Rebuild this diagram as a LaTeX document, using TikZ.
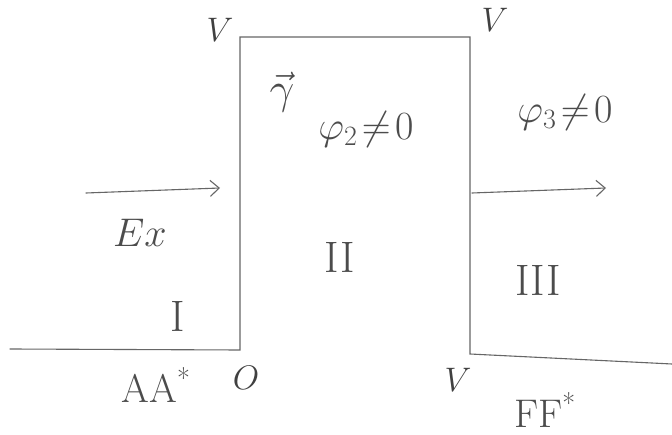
\RequirePackage{fix-cm}
\documentclass[tikz,border=0pt]{standalone}
\usetikzlibrary{arrows.meta}
\begin{document}
\begin{tikzpicture}[x=1pt,y=-1pt,
  pencil/.style={draw=black!60, line width=1.1pt, line cap=round},
  lbl/.style={text=black!75, inner sep=0pt, font=\fontsize{34}{34}\selectfont},
  big/.style={text=black!70, inner sep=0pt, font=\fontsize{40}{40}\selectfont},
  num/.style={text=black!70, inner sep=0pt, font=\fontsize{44}{44}\selectfont},
  arr/.style={pencil, -{Straight Barb[length=9pt,width=16pt,line width=1.1pt]}}]
\useasboundingbox[fill=white] (0,0) rectangle (672,435);
% corners of the barrier
\coordinate (g0) at (10,349);
\coordinate (bl) at (240,350);
\coordinate (tl) at (240,37);
\coordinate (tr) at (470,37);
\coordinate (br) at (470,354);
\coordinate (g1) at (672,364);
\draw[pencil] (g0) -- (bl) -- (tl) -- (tr) -- (br) -- (g1);
% arrows
\coordinate (a1s) at (86,193);
\coordinate (a1e) at (220,188);
\coordinate (a2s) at (472,193);
\coordinate (a2e) at (606,188);
\draw[arr] (a1s) -- (a1e);
\draw[arr] (a2s) -- (a2e);
% labels
\node[lbl] (vtl) at (220,30) {$V$};
\node[lbl] (vtr) at (495,20) {$V$};
\node[lbl] (vbr) at (458,380) {$V$};
\node[lbl] (o) at (246,378) {$O$};
\node[big] (aa) at (156,385) {AA\textsuperscript{*}};
\node[big] (ff) at (545,410) {FF\textsuperscript{*}};
\node[big] (ex) at (140,233) {$Ex$};
\node[num] (gam) at (282,92) {$\vec{\gamma}$};
\node[big] (phi2) at (366,130) {$\varphi_2\!\neq\! 0$};
\node[big] (phi3) at (565,113) {$\varphi_3\!\neq\! 0$};
\node[num] (r1) at (178,316) {I};
\node[num] (r2) at (340,257) {II};
\node[num] (r3) at (538,280) {III};
\end{tikzpicture}
\end{document}
